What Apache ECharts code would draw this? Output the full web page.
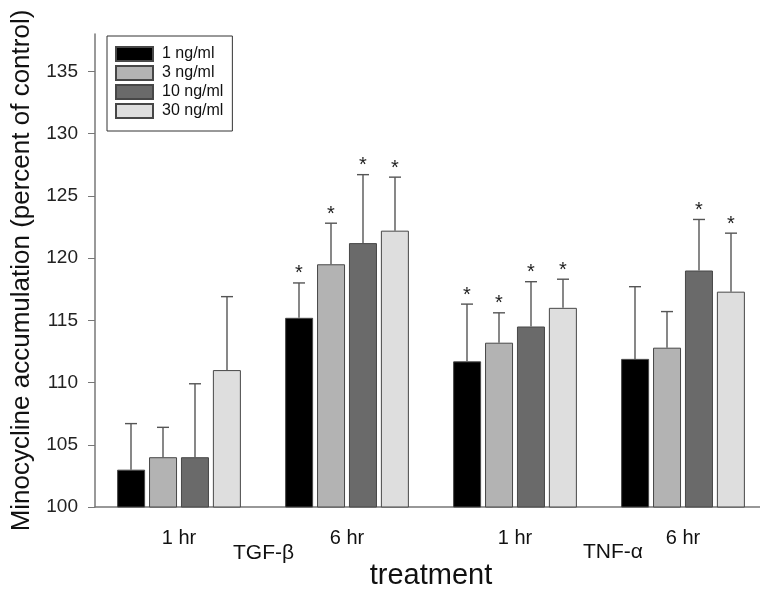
<!DOCTYPE html>
<html>
<head>
<meta charset="utf-8">
<script src="https://cdn.jsdelivr.net/npm/echarts@6/dist/echarts.min.js"></script>
<style>
  html, body { margin: 0; padding: 0; background: #fff; }
  #chart { width: 760px; height: 589px; }
</style>
</head>
<body>
<div id="chart"></div>
<script>
// data
const groups = ['TGF-β 1 hr', 'TGF-β 6 hr', 'TNF-α 1 hr', 'TNF-α 6 hr'];
const tickLabels = ['1 hr', '6 hr', '1 hr', '6 hr'];
const seriesNames = ['1 ng/ml', '3 ng/ml', '10 ng/ml', '30 ng/ml'];
const colors = ['#000000', '#b3b3b3', '#6a6a6a', '#dedede'];

const means = [
    [103.0, 115.2, 111.7, 111.9],   // 1 ng/ml
    [104.0, 119.5, 113.2, 112.8],   // 3 ng/ml
    [104.0, 121.2, 114.5, 119.0],   // 10 ng/ml
    [111.0, 122.2, 116.0, 117.3]    // 30 ng/ml
];
const errTops = [
    [106.7, 118.0, 116.3, 117.7],
    [106.4, 122.8, 115.6, 115.7],
    [109.9, 126.7, 118.1, 123.1],
    [116.9, 126.5, 118.3, 122.0]
];
// significance marks (*)
const signif = [
    [0, 1, 1, 0],
    [0, 1, 1, 0],
    [0, 1, 1, 1],
    [0, 1, 1, 1]
];

const BAR_W = 28;
const BAR_STEP = 32;

const chart = echarts.init(document.getElementById('chart'));

const barSeries = seriesNames.map((name, s) => ({
    name: name,
    type: 'bar',
    data: means[s],
    barWidth: BAR_W,
    barGap: '14%',
    itemStyle: { color: colors[s], borderColor: '#474747', borderWidth: 1 },
    z: 2
}));

// error bars + stars, one custom series per dose
const errSeries = seriesNames.map((name, s) => ({
    type: 'custom',
    name: name + ' err',
    data: groups.map((g, i) => [i, means[s][i], errTops[s][i], signif[s][i]]),
    z: 3,
    silent: true,
    renderItem: (params, api) => {
        const off = (s - 1.5) * BAR_STEP;
        const base = api.coord([api.value(0), api.value(1)]);
        const top = api.coord([api.value(0), api.value(2)]);
        const x = base[0] + off;
        const children = [
            { type: 'line', shape: { x1: x, y1: base[1], x2: x, y2: top[1] },
              style: { stroke: '#555', lineWidth: 1.4 } },
            { type: 'line', shape: { x1: x - 6, y1: top[1], x2: x + 6, y2: top[1] },
              style: { stroke: '#555', lineWidth: 1.4 } }
        ];
        if (api.value(3)) {
            children.push({ type: 'text', x: x, y: top[1] - 9,
                style: { text: '*', fontSize: 20, fontFamily: 'Liberation Sans', fill: '#222',
                         align: 'center', verticalAlign: 'middle' } });
        }
        return { type: 'group', children: children };
    }
}));

const option = {
    backgroundColor: '#fff',
    animation: false,
    textStyle: { fontFamily: 'Liberation Sans' },
    grid: { left: 95, top: 34, width: 672, height: 473, outerBoundsMode: 'none' },
    legend: {
        data: seriesNames,
        orient: 'vertical',
        left: 107, top: 36,
        padding: [10, 9, 12, 8],
        itemWidth: 37, itemHeight: 14, itemGap: 3,
        icon: 'rect',
        borderColor: '#333', borderWidth: 1,
        textStyle: { fontSize: 16, color: '#111', padding: [0, 0, 0, 4] },
        selectedMode: false
    },
    xAxis: {
        type: 'category',
        data: groups,
        name: 'treatment',
        nameLocation: 'middle',
        nameGap: 54,
        nameTextStyle: { fontSize: 29, color: '#111' },
        axisLine: { lineStyle: { color: '#777', width: 1.5 } },
        axisTick: { alignWithLabel: true, length: 6, lineStyle: { color: '#777' } },
        axisLabel: { fontSize: 20, color: '#111', margin: 21, formatter: (v, i) => tickLabels[i] }
    },
    yAxis: {
        type: 'value',
        min: 100, max: 138, interval: 5,
        name: 'Minocycline accumulation (percent of control)',
        nameLocation: 'middle',
        nameGap: 60,
        nameTextStyle: { fontSize: 26, color: '#111' },
        axisLine: { show: true, lineStyle: { color: '#777', width: 1.5 } },
        axisTick: { show: true, length: 7, lineStyle: { color: '#777' } },
        axisLabel: { fontSize: 19, color: '#222', margin: 17,
                     showMaxLabel: false },
        splitLine: { show: false }
    },
    graphic: [
        { type: 'text', left: 233, top: 543, style: { text: 'TGF-β', fontSize: 21, fill: '#111', fontFamily: 'Liberation Sans' } },
        { type: 'text', left: 583, top: 542, style: { text: 'TNF-α', fontSize: 21, fill: '#111', fontFamily: 'Liberation Sans' } }
    ],
    series: barSeries.concat(errSeries)
};

chart.setOption(option);
</script>
</body>
</html>
